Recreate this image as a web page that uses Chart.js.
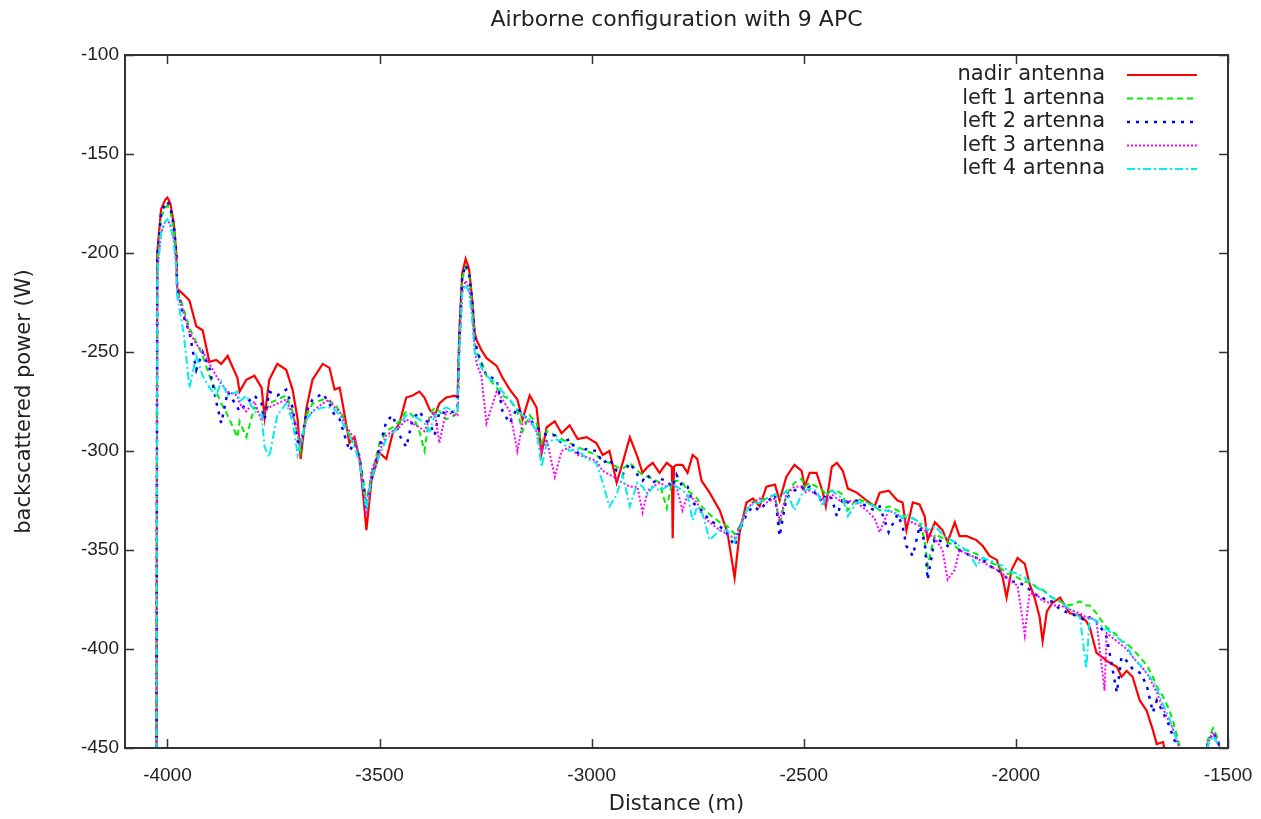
<!DOCTYPE html>
<html>
<head>
<meta charset="utf-8">
<script src="https://cdn.jsdelivr.net/npm/chart.js@4.4.1/dist/chart.umd.min.js"></script>
<style>
  html, body { margin: 0; background: #fff; }
  canvas { display: block; }
</style>
</head>
<body>
<canvas id="c" width="1261" height="819"></canvas>
<script>
// values (distance in m, power in W as labelled)
const distance = [
  -4026,-4024,-4015,-4005,-4000,-3993,-3985,-3979,-3977,-3962,
  -3948,-3932,-3917,-3901,-3885,-3873,-3858,-3835,-3830,-3814,
  -3795,-3778,-3771,-3760,-3741,-3720,-3705,-3693,-3686,-3672,
  -3658,-3634,-3618,-3606,-3594,-3587,-3571,-3559,-3547,-3536,
  -3531,-3519,-3500,-3484,-3469,-3453,-3437,-3422,-3406,-3394,
  -3382,-3370,-3359,-3343,-3323,-3316,-3312,-3305,-3297,-3289,
  -3281,-3276,-3271,-3260,-3248,-3224,-3210,-3193,-3175,-3163,
  -3146,-3130,-3118,-3106,-3087,-3071,-3052,-3033,-3012,-2989,
  -2974,-2958,-2941,-2927,-2910,-2892,-2880,-2868,-2856,-2840,
  -2823,-2811,-2809,-2806,-2800,-2786,-2774,-2762,-2751,-2741,
  -2722,-2698,-2680,-2663,-2651,-2635,-2620,-2604,-2588,-2568,
  -2557,-2541,-2522,-2505,-2498,-2486,-2470,-2455,-2448,-2434,
  -2422,-2408,-2396,-2375,-2352,-2333,-2321,-2300,-2279,-2267,
  -2258,-2243,-2227,-2215,-2208,-2191,-2173,-2161,-2144,-2133,
  -2116,-2093,-2078,-2062,-2045,-2031,-2022,-2010,-1996,-1979,
  -1968,-1956,-1944,-1937,-1927,-1915,-1896,-1873,-1849,-1834,
  -1826,-1810,-1791,-1786,-1762,-1751,-1739,-1725,-1708,-1692,
  -1677,-1668,-1653,-1649,-1640,-1630,-1615,-1600,-1560,-1548,
  -1535,-1522,-1510
];

const nadir = [
  -500,-200,-178,-173,-172,-175,-185,-200,-218,-221,
  -224,-237,-239,-255,-254,-256,-252,-263,-270,-264,
  -262,-268,-283,-264,-256,-259,-269,-284,-304,-278,
  -264,-256,-258,-269,-268,-276,-296,-293,-304,-328,
  -340,-315,-301,-304,-291,-286,-273,-272,-270,-273,
  -279,-282,-276,-273,-272,-273,-240,-210,-203,-208,
  -225,-240,-244,-249,-253,-257,-263,-269,-274,-284,
  -272,-278,-301,-288,-285,-291,-287,-294,-293,-296,
  -302,-300,-316,-306,-293,-303,-311,-308,-306,-311,
  -306,-308,-344,-308,-307,-307,-311,-302,-304,-315,
  -321,-330,-341,-364,-341,-326,-324,-328,-318,-317,
  -325,-313,-307,-310,-318,-311,-311,-321,-328,-308,
  -306,-310,-319,-321,-325,-328,-321,-320,-325,-326,
  -340,-326,-327,-333,-345,-336,-340,-346,-336,-343,
  -343,-345,-348,-353,-355,-364,-374,-360,-354,-357,
  -367,-374,-384,-396,-381,-377,-374,-382,-383,-386,
  -389,-402,-405,-406,-409,-414,-411,-414,-426,-431,
  -441,-448,-447,-452,-470,-480,-480,-480,-480,-480,
  -480,-480,-480
];

const left1 = [
  -500,-205,-182,-177,-176,-179,-188,-203,-218,-228,
  -238,-245,-252,-262,-270,-276,-282,-293,-285,-293,
  -278,-280,-282,-276,-274,-272,-280,-292,-300,-282,
  -276,-274,-275,-276,-280,-282,-292,-296,-302,-318,
  -326,-312,-296,-290,-288,-285,-280,-282,-290,-300,
  -282,-278,-280,-284,-282,-280,-245,-213,-207,-211,
  -228,-245,-250,-255,-262,-268,-272,-274,-280,-290,
  -282,-286,-296,-290,-292,-294,-296,-298,-300,-302,
  -305,-306,-308,-309,-306,-310,-312,-313,-314,-316,
  -329,-316,-316,-315,-315,-316,-320,-322,-324,-328,
  -332,-336,-338,-342,-338,-330,-326,-325,-324,-322,
  -338,-322,-316,-314,-318,-316,-318,-320,-322,-320,
  -320,-322,-330,-324,-326,-328,-330,-328,-330,-332,
  -334,-334,-336,-345,-358,-342,-344,-346,-348,-350,
  -350,-352,-354,-356,-358,-360,-362,-362,-364,-366,
  -366,-368,-370,-370,-372,-374,-376,-378,-376,-378,
  -378,-382,-388,-389,-393,-396,-397,-400,-404,-408,
  -414,-419,-424,-426,-430,-436,-448,-470,-470,-446,
  -440,-446,-470
];

const left2 = [
  -500,-203,-180,-175,-174,-177,-186,-200,-218,-232,
  -240,-259,-250,-258,-275,-286,-270,-278,-280,-276,
  -272,-276,-284,-270,-272,-269,-278,-295,-298,-280,
  -274,-271,-276,-282,-284,-289,-300,-296,-304,-320,
  -330,-314,-298,-285,-282,-292,-298,-284,-280,-284,
  -286,-292,-280,-281,-280,-278,-245,-212,-206,-210,
  -225,-242,-248,-256,-262,-264,-280,-286,-278,-282,
  -284,-288,-290,-292,-292,-296,-294,-301,-299,-300,
  -306,-304,-310,-312,-306,-312,-315,-312,-316,-314,
  -315,-318,-318,-316,-312,-318,-318,-326,-328,-330,
  -335,-338,-342,-348,-340,-332,-328,-330,-326,-322,
  -343,-324,-320,-318,-320,-318,-322,-326,-322,-324,
  -333,-324,-326,-325,-328,-330,-328,-341,-332,-338,
  -348,-353,-338,-346,-365,-344,-346,-348,-346,-350,
  -352,-354,-355,-358,-360,-362,-364,-366,-366,-368,
  -370,-372,-374,-374,-376,-376,-380,-382,-384,-386,
  -384,-386,-392,-394,-422,-404,-406,-410,-412,-418,
  -432,-426,-432,-434,-438,-444,-452,-470,-470,-448,
  -442,-448,-470
];

const left3 = [
  -500,-210,-190,-184,-183,-186,-193,-206,-220,-230,
  -240,-246,-250,-256,-262,-266,-270,-272,-276,-280,
  -275,-285,-280,-278,-276,-274,-282,-290,-296,-284,
  -280,-276,-274,-278,-280,-284,-290,-294,-304,-322,
  -332,-310,-300,-292,-290,-288,-284,-286,-288,-290,
  -284,-280,-296,-280,-282,-282,-250,-220,-214,-218,
  -232,-248,-256,-262,-286,-270,-274,-280,-300,-286,
  -285,-290,-300,-294,-313,-300,-298,-302,-303,-305,
  -310,-312,-314,-316,-318,-318,-331,-320,-318,-316,
  -318,-317,-317,-318,-318,-330,-322,-324,-326,-332,
  -336,-340,-342,-344,-338,-330,-326,-324,-326,-324,
  -335,-322,-318,-318,-321,-320,-322,-324,-326,-322,
  -324,-326,-325,-326,-330,-334,-341,-330,-332,-334,
  -336,-336,-338,-340,-342,-344,-350,-365,-360,-350,
  -352,-354,-356,-358,-360,-362,-364,-366,-368,-393,
  -372,-372,-374,-376,-376,-378,-378,-380,-382,-384,
  -384,-386,-421,-392,-396,-398,-400,-404,-408,-412,
  -418,-422,-430,-432,-436,-440,-450,-470,-470,-448,
  -442,-448,-470
];

const left4 = [
  -500,-210,-190,-184,-183,-186,-194,-208,-222,-240,
  -268,-252,-262,-268,-272,-265,-272,-270,-275,-272,
  -280,-282,-298,-303,-282,-276,-285,-302,-296,-284,
  -280,-278,-278,-279,-282,-286,-292,-298,-306,-322,
  -330,-314,-302,-294,-291,-287,-282,-282,-284,-286,
  -290,-282,-280,-278,-280,-280,-250,-220,-216,-220,
  -235,-250,-252,-258,-262,-266,-270,-274,-279,-282,
  -284,-290,-308,-296,-294,-295,-300,-299,-304,-306,
  -316,-328,-322,-312,-328,-316,-318,-322,-318,-320,
  -318,-316,-316,-317,-318,-320,-322,-335,-328,-330,
  -345,-340,-340,-346,-340,-330,-327,-326,-324,-322,
  -324,-320,-330,-322,-320,-319,-320,-328,-322,-320,
  -322,-324,-333,-326,-326,-328,-330,-330,-332,-334,
  -332,-334,-336,-338,-340,-338,-342,-344,-346,-348,
  -350,-358,-354,-355,-357,-358,-360,-361,-362,-364,
  -366,-368,-370,-370,-372,-374,-376,-380,-384,-410,
  -384,-386,-390,-390,-394,-396,-398,-404,-408,-412,
  -416,-420,-428,-430,-434,-440,-450,-470,-470,-449,
  -444,-449,-470
];

const xTicks = [-4000, -3500, -3000, -2500, -2000, -1500];
const yTicks = [-450, -400, -350, -300, -250, -200, -150, -100];

const TITLE = 'Airborne configuration with 9 APC';
const FONT = "'Liberation Sans', Arial, sans-serif";
const WIDE = "'DejaVu Sans', Verdana, sans-serif";
const TEXT = '#222';

const toPoints = vals => distance.map((d, i) => ({ x: d, y: vals[i] }));

// gnuplot look: full box, inward mirrored ticks, title over the plot, key top right
const gnuplotFrame = {
  id: 'gnuplotFrame',
  afterDatasetsDraw(chart) {
    const { ctx, chartArea: a, scales: { x, y } } = chart;
    ctx.save();
    ctx.strokeStyle = '#333';
    ctx.lineWidth = 2;
    ctx.setLineDash([]);
    ctx.strokeRect(a.left, a.top, a.right - a.left, a.bottom - a.top);
    ctx.lineWidth = 1.5;
    ctx.beginPath();
    for (const v of xTicks) {
      const px = Math.round(x.getPixelForValue(v)) + 0.5;
      ctx.moveTo(px, a.bottom); ctx.lineTo(px, a.bottom - 9);
      ctx.moveTo(px, a.top); ctx.lineTo(px, a.top + 9);
    }
    for (const v of yTicks) {
      const py = Math.round(y.getPixelForValue(v)) + 0.5;
      ctx.moveTo(a.left, py); ctx.lineTo(a.left + 9, py);
      ctx.moveTo(a.right, py); ctx.lineTo(a.right - 9, py);
    }
    ctx.stroke();

    // title, centred on the plot box like gnuplot does
    ctx.fillStyle = TEXT;
    ctx.font = '22px ' + WIDE;
    ctx.textAlign = 'center';
    ctx.textBaseline = 'middle';
    ctx.fillText(TITLE, (a.left + a.right) / 2, 20);

    // key
    ctx.font = '21px ' + WIDE;
    ctx.textAlign = 'right';
    chart.data.datasets.forEach((ds, i) => {
      const ly = a.top + 20 + i * 23.5;
      ctx.fillStyle = TEXT;
      ctx.fillText(ds.label, a.right - 123, ly);
      ctx.strokeStyle = ds.borderColor;
      ctx.lineWidth = ds.borderWidth;
      ctx.setLineDash(ds.borderDash || []);
      ctx.beginPath();
      ctx.moveTo(a.right - 101, ly);
      ctx.lineTo(a.right - 31, ly);
      ctx.stroke();
    });
    ctx.restore();
  }
};

const series = [
  { label: 'nadir antenna',  data: nadir, color: '#ff0000', dash: [],           width: 2.2, order: 5 },
  { label: 'left 1 artenna', data: left1, color: '#00ee00', dash: [6, 4],       width: 2,   order: 4 },
  { label: 'left 2 artenna', data: left2, color: '#0000ff', dash: [3, 6],       width: 2.5, order: 3 },
  { label: 'left 3 artenna', data: left3, color: '#ff00ff', dash: [2, 2],       width: 2,   order: 2 },
  { label: 'left 4 artenna', data: left4, color: '#00eeee', dash: [8, 3, 2, 3], width: 2,   order: 1 }
];

new Chart(document.getElementById('c'), {
  type: 'line',
  data: {
    datasets: series.map(s => ({
      label: s.label,
      data: toPoints(s.data),
      borderColor: s.color,
      borderDash: s.dash,
      borderWidth: s.width,
      order: s.order,
      pointRadius: 0,
      tension: 0,
      fill: false
    }))
  },
  options: {
    responsive: false,
    animation: false,
    layout: { padding: { left: 0, right: 33, top: 55, bottom: 0 } },
    plugins: {
      legend: { display: false },
      tooltip: { enabled: false },
      title: { display: false }
    },
    scales: {
      x: {
        type: 'linear',
        min: -4100,
        max: -1500,
        grid: { display: false, drawTicks: false },
        border: { display: false },
        afterBuildTicks: s => { s.ticks = xTicks.map(v => ({ value: v })); },
        afterFit: s => { s.height = 71; s.paddingLeft = 0; s.paddingRight = 0; },
        ticks: {
          autoSkip: false, maxRotation: 0, padding: 16, color: TEXT,
          font: { family: FONT, size: 19 },
          callback: v => String(v)
        },
        title: {
          display: true, text: 'Distance (m)', color: TEXT,
          font: { family: WIDE, size: 21 },
          padding: { top: 0, bottom: 2 }
        }
      },
      y: {
        min: -450,
        max: -100,
        grid: { display: false, drawTicks: false },
        border: { display: false },
        afterBuildTicks: s => { s.ticks = yTicks.map(v => ({ value: v })); },
        afterFit: s => { s.width = 125; s.paddingTop = 0; s.paddingBottom = 0; },
        ticks: {
          padding: 6, color: TEXT,
          font: { family: FONT, size: 19 },
          callback: v => String(v)
        },
        title: {
          display: true, text: 'backscattered power (W)', color: TEXT,
          font: { family: WIDE, size: 21 },
          padding: { top: 12, bottom: 0 }
        }
      }
    }
  },
  plugins: [gnuplotFrame]
});
</script>
</body>
</html>
